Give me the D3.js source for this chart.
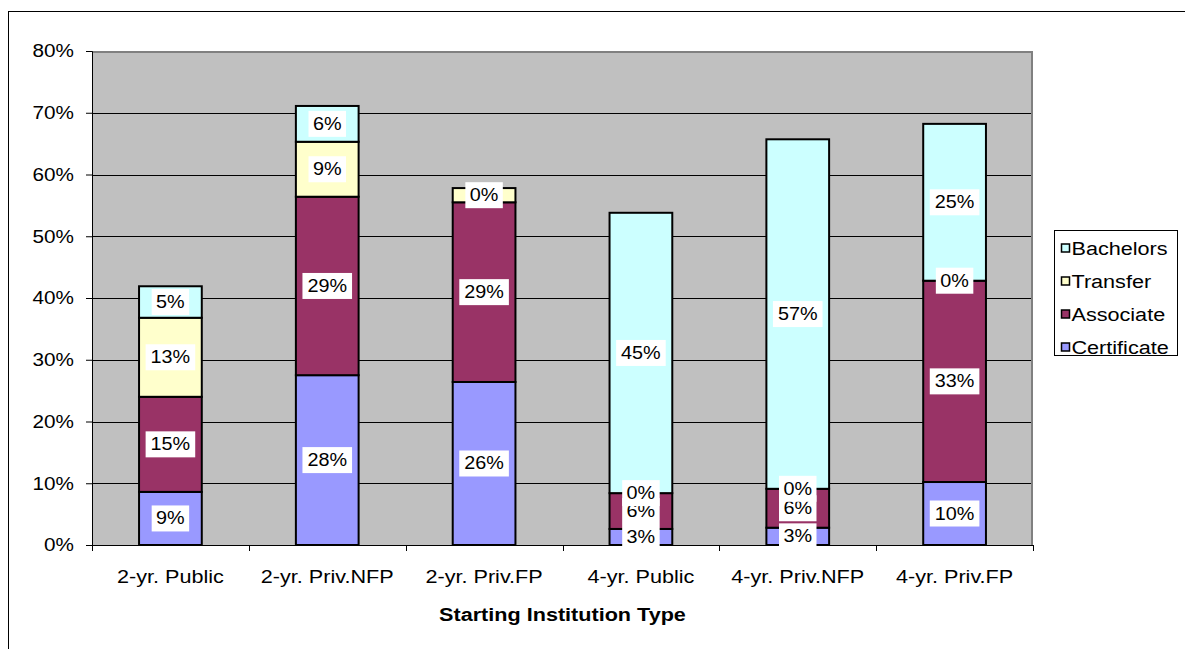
<!DOCTYPE html>
<html>
<head>
<meta charset="utf-8">
<script src="https://cdn.jsdelivr.net/npm/d3@7"></script>
<style>
  body { margin: 0; background: #fff; }
  svg { display: block; font-family: Arial, "Liberation Sans", sans-serif; }
</style>
</head>
<body>
<div id="canvas"></div>
<script>
// chart data (percent)
var categories = ['2-yr. Public', '2-yr. Priv.NFP', '2-yr. Priv.FP', '4-yr. Public', '4-yr. Priv.NFP', '4-yr. Priv.FP'];
var seriesNames = ['Certificate', 'Associate', 'Transfer', 'Bachelors'];
var certificate = [8.6, 27.5, 26.4, 2.6, 2.8, 10.2];
var associate = [15.4, 28.9, 29.1, 5.8, 6.3, 32.6];
var transfer = [12.8, 8.9, 2.3, 0, 0, 0];
var bachelors = [5.1, 5.8, 0, 45.4, 56.6, 25.4];
// data labels as printed on the chart (null = none)
var certificateLabels = ['9%', '28%', '26%', '3%', '3%', '10%'];
var associateLabels = ['15%', '29%', '29%', '6%', '6%', '33%'];
var transferLabels = ['13%', '9%', '0%', '0%', '0%', '0%'];
var bachelorsLabels = ['5%', '6%', null, '45%', '57%', '25%'];
var yTicks = [0, 10, 20, 30, 40, 50, 60, 70, 80];
var colors = ['#9999FF', '#993366', '#FFFFCC', '#CCFFFF'];

var width = 1185, height = 649;
var plot = { left: 92, right: 1033, top: 51, bottom: 545 };
var fontSize = 18;

// the original text is rendered a bit wider than Arial, stretch it
var stretch = function (sel, k) {
  sel.each(function () {
    var len = this.getComputedTextLength();
    d3.select(this)
      .attr('textLength', len * k)
      .attr('lengthAdjust', 'spacingAndGlyphs');
  });
};

var svg = d3.select('#canvas').append('svg')
  .attr('width', width)
  .attr('height', height);

// outer chart border
svg.append('rect')
  .attr('x', 8.5).attr('y', 11.5)
  .attr('width', 1300).attr('height', 800)
  .attr('fill', 'none')
  .attr('stroke', '#000')
  .attr('stroke-width', 1);

var x = d3.scaleBand()
  .domain(categories)
  .range([plot.left, plot.right])
  .paddingInner(0.6)
  .paddingOuter(0.3);

var y = d3.scaleLinear()
  .domain([0, 80])
  .range([plot.bottom, plot.top]);

// plot area
svg.append('rect')
  .attr('x', plot.left).attr('y', plot.top)
  .attr('width', plot.right - plot.left)
  .attr('height', plot.bottom - plot.top)
  .attr('fill', '#C0C0C0');

// gridlines
svg.append('g').selectAll('line')
  .data(yTicks.filter(function (d) { return d > 0 && d < 80; }))
  .enter().append('line')
  .attr('x1', plot.left).attr('x2', plot.right)
  .attr('y1', function (d) { return Math.round(y(d)) + 0.5; })
  .attr('y2', function (d) { return Math.round(y(d)) + 0.5; })
  .attr('stroke', '#000')
  .attr('stroke-width', 1);

// plot area border (top and right)
svg.append('path')
  .attr('d', 'M' + plot.left + ',' + (plot.top + 1) + 'H' + (plot.right - 1) + 'V' + plot.bottom)
  .attr('fill', 'none')
  .attr('stroke', '#808080')
  .attr('stroke-width', 2);

// stacked bars
var table = categories.map(function (c, i) {
  return { cat: c, Certificate: certificate[i], Associate: associate[i], Transfer: transfer[i], Bachelors: bachelors[i] };
});
var labelSets = [certificateLabels, associateLabels, transferLabels, bachelorsLabels];
var stacked = d3.stack().keys(seriesNames)(table);

var layers = svg.append('g').selectAll('g')
  .data(stacked)
  .enter().append('g')
  .attr('fill', function (d, i) { return colors[i]; });

layers.selectAll('rect')
  .data(function (d) { return d.filter(function (p) { return p[1] - p[0] > 0; }); })
  .enter().append('rect')
  .attr('x', function (d) { return x(d.data.cat); })
  .attr('y', function (d) { return y(d[1]); })
  .attr('width', x.bandwidth())
  .attr('height', function (d) { return y(d[0]) - y(d[1]); })
  .attr('stroke', '#000')
  .attr('stroke-width', 2);

// y axis
var yAxis = svg.append('g')
  .attr('transform', 'translate(' + plot.left + ',0)')
  .call(d3.axisLeft(y).tickValues(yTicks).tickSize(6).tickFormat(function (d) { return d + '%'; }));
yAxis.select('.domain').attr('stroke', '#000').attr('stroke-width', 1);
yAxis.selectAll('.tick line').attr('stroke', '#000');
yAxis.selectAll('.tick text')
  .attr('font-size', fontSize)
  .attr('font-family', 'Arial, "Liberation Sans", sans-serif')
  .attr('fill', '#000')
  .attr('x', -18)
  .call(stretch, 1.15);

// x axis
var xAxis = svg.append('g')
  .attr('transform', 'translate(0,' + plot.bottom + ')')
  .call(d3.axisBottom(x).tickSize(0).tickSizeOuter(0));
xAxis.select('.domain').attr('stroke', '#000').attr('stroke-width', 1);
xAxis.selectAll('.tick text')
  .attr('font-size', fontSize)
  .attr('font-family', 'Arial, "Liberation Sans", sans-serif')
  .attr('fill', '#000')
  .attr('y', 25)
  .call(stretch, 1.2);
// category separator ticks
var step = x.step();
svg.append('g').selectAll('line')
  .data(d3.range(categories.length + 1))
  .enter().append('line')
  .attr('x1', function (d) { return Math.round(plot.left + d * step) + 0.5; })
  .attr('x2', function (d) { return Math.round(plot.left + d * step) + 0.5; })
  .attr('y1', plot.bottom)
  .attr('y2', plot.bottom + 6)
  .attr('stroke', '#000');

svg.append('text')
  .attr('x', (plot.left + plot.right) / 2)
  .attr('y', 621)
  .attr('text-anchor', 'middle')
  .attr('font-size', fontSize)
  .attr('font-weight', 'bold')
  .text('Starting Institution Type')
  .call(stretch, 1.2);

// data labels, drawn after all bars so later series sit on top
var labelG = svg.append('g');
stacked.forEach(function (layer, si) {
  layer.forEach(function (p, ci) {
    var txt = labelSets[si][ci];
    if (txt === null) return;
    var cx = x(p.data.cat) + x.bandwidth() / 2;
    var cy = y((p[0] + p[1]) / 2);
    var g = labelG.append('g');
    var t = g.append('text')
      .attr('x', cx).attr('y', cy)
      .attr('text-anchor', 'middle')
      .attr('dominant-baseline', 'central')
      .attr('font-size', fontSize)
      .attr('fill', '#000')
      .text(txt)
      .call(stretch, 1.1);
    var w = t.node().getComputedTextLength() * 1.1;
    g.insert('rect', 'text')
      .attr('x', cx - w / 2 - 3).attr('y', cy - 13)
      .attr('width', w + 6).attr('height', 26)
      .attr('fill', '#fff');
  });
});

// legend
var legend = svg.append('g');
legend.append('rect')
  .attr('x', 1054.5).attr('y', 230.5)
  .attr('width', 123).attr('height', 125)
  .attr('fill', '#fff')
  .attr('stroke', '#000');
var legendOrder = seriesNames.slice().reverse();
var items = legend.selectAll('g.item')
  .data(legendOrder)
  .enter().append('g')
  .attr('class', 'item')
  .attr('transform', function (d, i) { return 'translate(1061,' + (248.5 + i * 33) + ')'; });
items.append('rect')
  .attr('x', 0.5).attr('y', -4.5)
  .attr('width', 8).attr('height', 8)
  .attr('fill', function (d) { return colors[seriesNames.indexOf(d)]; })
  .attr('stroke', '#000')
  .attr('stroke-width', 1.5);
items.append('text')
  .attr('x', 10.5)
  .attr('y', 0)
  .attr('dominant-baseline', 'central')
  .attr('font-size', fontSize)
  .text(function (d) { return d; })
  .call(stretch, 1.2);
</script>
</body>
</html>
